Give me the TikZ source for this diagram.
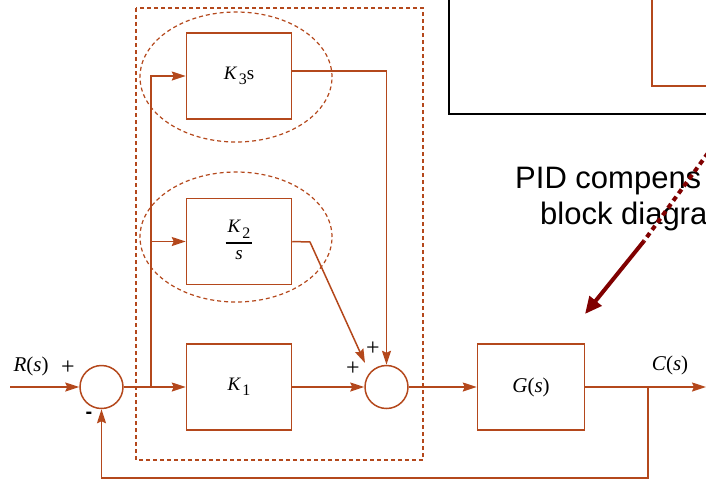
\documentclass[tikz,border=0pt]{standalone}
\usepackage{fontspec}
\usetikzlibrary{arrows.meta,positioning,shapes.geometric}
\setmainfont{Liberation Serif}
\newfontfamily\pidsans{Liberation Sans}
\definecolor{pidbrown}{RGB}{180,72,28}
\definecolor{ptrred}{RGB}{128,0,0}
\newcommand{\gainK}[1]{\textit{K}\kern1.5pt\raisebox{-5.5pt}{\fontsize{16}{16}\selectfont #1}}
\setlength{\arrayrulewidth}{1.2pt}

\begin{document}
\begin{tikzpicture}[x=1pt, y=-1pt,
  blk/.style={draw=pidbrown, line width=1.5pt, minimum width=105pt, minimum height=86pt, inner sep=0pt, font=\fontsize{19}{23}\selectfont},
  sumpt/.style={draw=pidbrown, line width=1.5pt, circle, minimum size=43pt, inner sep=0pt},
  ring/.style={draw=pidbrown, line width=1.2pt, dash pattern=on 4pt off 3pt, ellipse, minimum width=192pt, minimum height=130pt},
  arr/.style={-{Stealth[length=14pt,width=9pt,inset=2pt]}, line width=1.5pt, draw=pidbrown},
  wire/.style={line width=1.5pt, draw=pidbrown},
  sig/.style={font=\fontsize{21}{25}\selectfont},
  sgn/.style={font=\fontsize{24}{26}\selectfont},
  ptr/.style={draw=ptrred, line width=4pt}
]
\useasboundingbox (0,0) rectangle (706,480);
\clip (0,0) rectangle (706,480);

\draw[line width=2.5pt, black] (449,-3) -- (449,114) -- (710,114);
\draw[wire] (652,-3) -- (652,86) -- (710,86);

\draw[draw=pidbrown, line width=1.2pt, dash pattern=on 4pt off 3pt] (136,8) rectangle (423,460);

\node[sumpt] (sum1) at (101.5,387) {};
\node[blk, right=62pt of sum1] (k1) {\gainK{1}};
\node[blk, above=58pt of k1] (k2) {\begin{tabular}{@{\kern2pt}c@{\kern2pt}}\gainK{2}\\[3pt]\hline\textit{s}\end{tabular}};
\node[blk, above=78pt of k2] (k3) {\gainK{3}s};
\node[sumpt, right=72pt of k1] (sum2) {};
\node[blk, minimum width=107pt, right=68pt of sum2, font=\fontsize{21}{25}\selectfont] (g) {\textit{G}(\textit{s})};
\node[ring] (k3ring) at (236,77) {};
\node[ring] (k2ring) at (236,237) {};

\coordinate (rin) at (10,387);
\coordinate (split) at (151,387);
\coordinate (k2bend) at (310,242);
\coordinate (k2tip) at (365,363);
\coordinate (fb) at (648,387);
\coordinate (fbb) at (648,478);
\coordinate (cout) at (706,387);

\draw[arr] (rin) -- (sum1);
\draw[arr] (sum1) -- (k1);
\draw[arr] (split) |- (k3.west);
\draw[arr] (split) |- (k2.west);
\draw[arr] ([yshift=5pt]k3.east) -| (sum2.north);
\draw[arr] (k2.east) -- (k2bend) -- (k2tip);
\draw[arr] (k1) -- (sum2);
\draw[arr] (sum2) -- (g);
\draw[arr] (g) -- (cout);
\draw[arr] (fb) -- (fbb) -| (sum1.south);

\node[sig] (rlab) at (31,366) {\textit{R}(\textit{s})};
\node[sig] (clab) at (670,365) {\textit{C}(\textit{s})};
\node[sgn] (p1) at (68,368) {+};
\node[font=\pidsans\bfseries\fontsize{20}{22}\selectfont] (m1) at (89,415) {-};
\node[sgn] (p2) at (353,369) {+};
\node[sgn] (p3) at (373,349) {+};

\node[font=\pidsans\fontsize{31}{36}\selectfont, anchor=base west, inner sep=0pt] (cap1) at (515,188) {PID compens};
\node[font=\pidsans\fontsize{31}{36}\selectfont, anchor=base west, inner sep=0pt] (cap2) at (540,224) {block diagra};

\coordinate (ptrstart) at (708,153);
\coordinate (ptrmid) at (644,241);
\coordinate (ptrtip) at (585,314);
\draw[ptr, dash pattern=on 5pt off 4pt] (ptrstart) -- (ptrmid);
\draw[ptr, -{Triangle[length=17pt,width=15pt]}] (ptrmid) -- (ptrtip);
\end{tikzpicture}
\end{document}
